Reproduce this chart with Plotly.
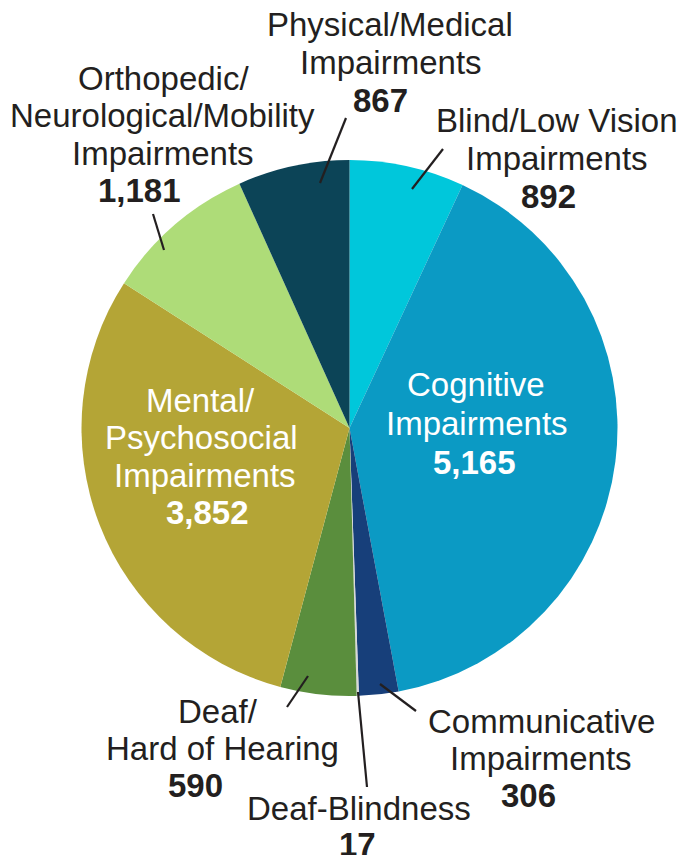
import plotly.graph_objects as go

W, H = 683, 855

# ---- data ----
categories = [
    "Blind/Low Vision Impairments",
    "Cognitive Impairments",
    "Communicative Impairments",
    "Deaf-Blindness",
    "Deaf/Hard of Hearing",
    "Mental/Psychosocial Impairments",
    "Orthopedic/Neurological/Mobility Impairments",
    "Physical/Medical Impairments",
]
values = [892, 5165, 306, 17, 590, 3852, 1181, 867]
label_lines = [
    ["Blind/Low Vision", "Impairments"],
    ["Cognitive", "Impairments"],
    ["Communicative", "Impairments"],
    ["Deaf-Blindness"],
    ["Deaf/", "Hard of Hearing"],
    ["Mental/", "Psychosocial", "Impairments"],
    ["Orthopedic/", "Neurological/Mobility", "Impairments"],
    ["Physical/Medical", "Impairments"],
]

# ---- styles ----
colors = ["#00C7DB", "#0B9AC4", "#173F7A", "#D9D9D9",
          "#5A8E3D", "#B4A536", "#AEDC78", "#0C4457"]
inside = [False, True, False, False, False, True, False, False]
# label block layout: (list of x centers per line, first line y, line step), pixels
label_pos = [
    ([557, 557, 548], 120, 38),
    ([476, 477, 474], 385, 38.5),
    ([541, 541, 528], 721, 37),
    ([359, 357], 808, 36),
    ([218, 222, 195], 711, 37),
    ([200, 201, 205, 207], 400, 37.5),
    ([163, 162, 163, 139], 78, 37.5),
    ([390, 391, 380], 25, 37.5),
]
leaders = [
    ((412, 189), (443, 149)),
    None,
    ((380, 684), (416, 711)),
    ((358, 692), (367, 787)),
    ((308, 676), (287, 707)),
    None,
    ((164, 250), (153, 214)),
    ((320, 183), (346, 118)),
]
cx, cy, R = 349.5, 428, 268
FONT = "Liberation Sans, Arial, sans-serif"
FS = 33


def px(x):
    return x / W


def py(y):
    return 1 - y / H


fig = go.Figure(go.Pie(
    labels=categories,
    values=values,
    sort=False,
    direction="clockwise",
    rotation=0,
    marker=dict(colors=colors, line=dict(width=0)),
    textinfo="none",
    hoverinfo="label+value",
    showlegend=False,
    domain=dict(x=[px(cx - R), px(cx + R)], y=[py(cy + R), py(cy - R)]),
))

annotations = []
for lines, v, (xs, y0, step), ins in zip(label_lines, values, label_pos, inside):
    col = "#FFFFFF" if ins else "#231F20"
    all_lines = [(t, False) for t in lines] + [(f"{v:,}", True)]
    for i, (t, bold) in enumerate(all_lines):
        annotations.append(dict(
            x=px(xs[i]), y=py(y0 + i * step), xref="paper", yref="paper",
            text=f"<b>{t}</b>" if bold else t, showarrow=False,
            xanchor="center", yanchor="middle",
            font=dict(family=FONT, size=FS, color=col),
        ))

shapes = []
for ld in leaders:
    if ld is None:
        continue
    (x0, y0), (x1, y1) = ld
    shapes.append(dict(type="line", xref="paper", yref="paper",
                       x0=px(x0), y0=py(y0), x1=px(x1), y1=py(y1),
                       line=dict(color="#231F20", width=2.2)))

fig.update_layout(
    width=W, height=H,
    margin=dict(l=0, r=0, t=0, b=0),
    paper_bgcolor="white", plot_bgcolor="white",
    annotations=annotations, shapes=shapes,
)

fig.write_html(
    "out.html",
    config={"displayModeBar": False},
    post_script="document.body.style.margin='0';document.body.style.overflow='hidden';",
)
